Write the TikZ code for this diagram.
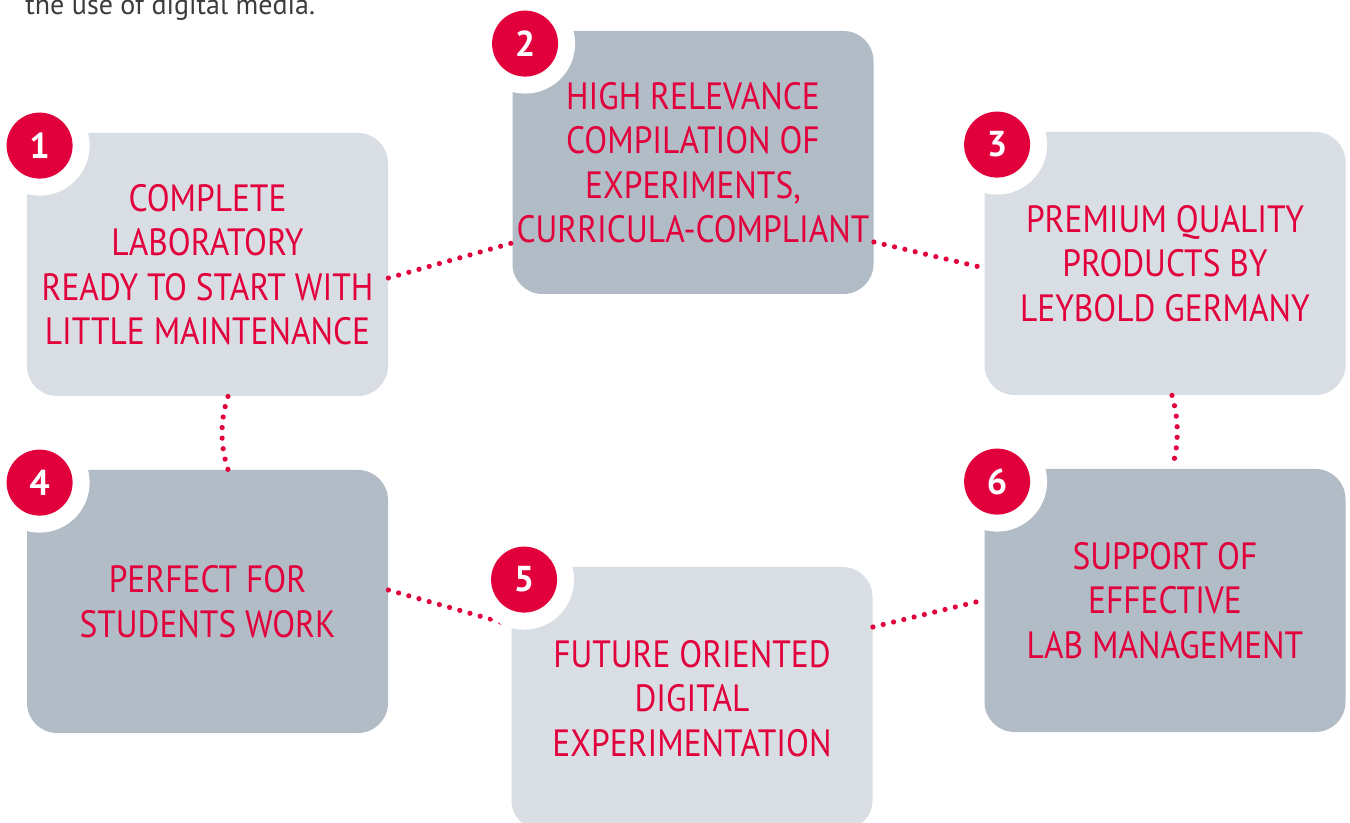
\documentclass[tikz,border=0pt]{standalone}
\usepackage{fontspec}
\setmainfont{PT Sans}
\newfontfamily\cardfont[FakeStretch=0.88]{PT Sans}
\usetikzlibrary{calc}
\definecolor{lightbox}{HTML}{D9DEE4}
\definecolor{darkbox}{HTML}{B2BCC6}
\definecolor{brandred}{HTML}{E2003C}
\definecolor{bodytext}{HTML}{3C3C3C}
\tikzset{
  card/.style={rectangle, rounded corners=15pt, minimum width=180.5pt, minimum height=131.5pt, inner sep=0pt},
  lightcard/.style={card, fill=lightbox},
  darkcard/.style={card, fill=darkbox},
  cardtext/.style={text=brandred, align=center, font=\cardfont\fontsize{19}{22.25}\selectfont},
  dotline/.style={draw=brandred, line width=2.6pt, line cap=round, dash pattern=on 0pt off 5.3pt},
  ring/.style={circle, fill=white, minimum size=50pt, inner sep=0pt},
  badge/.style={circle, fill=brandred, minimum size=33pt, inner sep=0pt, text=white, font=\bfseries\fontsize{18}{20}\selectfont}
}
\begin{document}
\begin{tikzpicture}[x=0.5pt, y=-0.5pt]
\useasboundingbox (0,0) rectangle (1350,823);
\clip (0,0) rectangle (1350,823);
\fill[white] (0,0) rectangle (1350,823);

\node[anchor=base west, text=bodytext, inner sep=0pt, font=\fontsize{14}{16}\selectfont] (intro) at (25,15) {the use of digital media.};

% cards
\node[lightcard] (b1) at (207.5,264.5) {};
\node[darkcard]  (b2) at (693,162.5) {};
\node[lightcard] (b3) at (1165,263.5) {};
\node[darkcard]  (b4) at (207.5,601.5) {};
\node[lightcard] (b5) at (692,698.5) {};
\node[darkcard]  (b6) at (1165,600.5) {};

% texts
\node[cardtext] (t1) at (b1.center) {COMPLETE\\LABORATORY\\READY TO START WITH\\LITTLE MAINTENANCE};
\node[cardtext] (t2) at (b2.center) {HIGH RELEVANCE\\COMPILATION OF\\EXPERIMENTS,\\CURRICULA-COMPLIANT};
\node[cardtext] (t3) at (b3.center) {PREMIUM QUALITY\\PRODUCTS BY\\LEYBOLD GERMANY};
\node[cardtext] (t4) at (b4.center) {PERFECT FOR\\STUDENTS WORK};
\node[cardtext] (t5) at (b5.center) {FUTURE ORIENTED\\DIGITAL\\EXPERIMENTATION};
\node[cardtext] (t6) at (b6.center) {SUPPORT OF\\EFFECTIVE\\LAB MANAGEMENT};

% dotted connectors
\draw[dotline] ($(b1.east)+(0,13.5)$) -- ($(b2.west)+(0,80.5)$);
\draw[dotline] ($(b2.east)+(0,79.5)$) -- ($(b3.west)+(0,4.5)$);
\draw[dotline] ($(b1.south)+(20.5,0)$) .. controls +(-8,25) and +(-8,-25) .. ($(b4.north)+(20.5,0)$);
\draw[dotline] ($(b3.south)+(7,0)$) .. controls +(7,25) and +(7,-25) .. ($(b6.north)+(7,0)$);
\draw[dotline] ($(b4.east)+(0,-11.5)$) -- ($(b5.west)+(0,-73.5)$);
\draw[dotline] ($(b5.east)+(0,-71.5)$) -- ($(b6.west)+(0,-0.5)$);

% badges
\foreach \b/\n in {b1/1,b2/2,b3/3,b4/4,b5/5,b6/6}{
  \node[ring] (r\n) at ($(\b.north west)+(13,13)$) {};
  \node[badge] (n\n) at (r\n.center) {\n};
}
\end{tikzpicture}
\end{document}
